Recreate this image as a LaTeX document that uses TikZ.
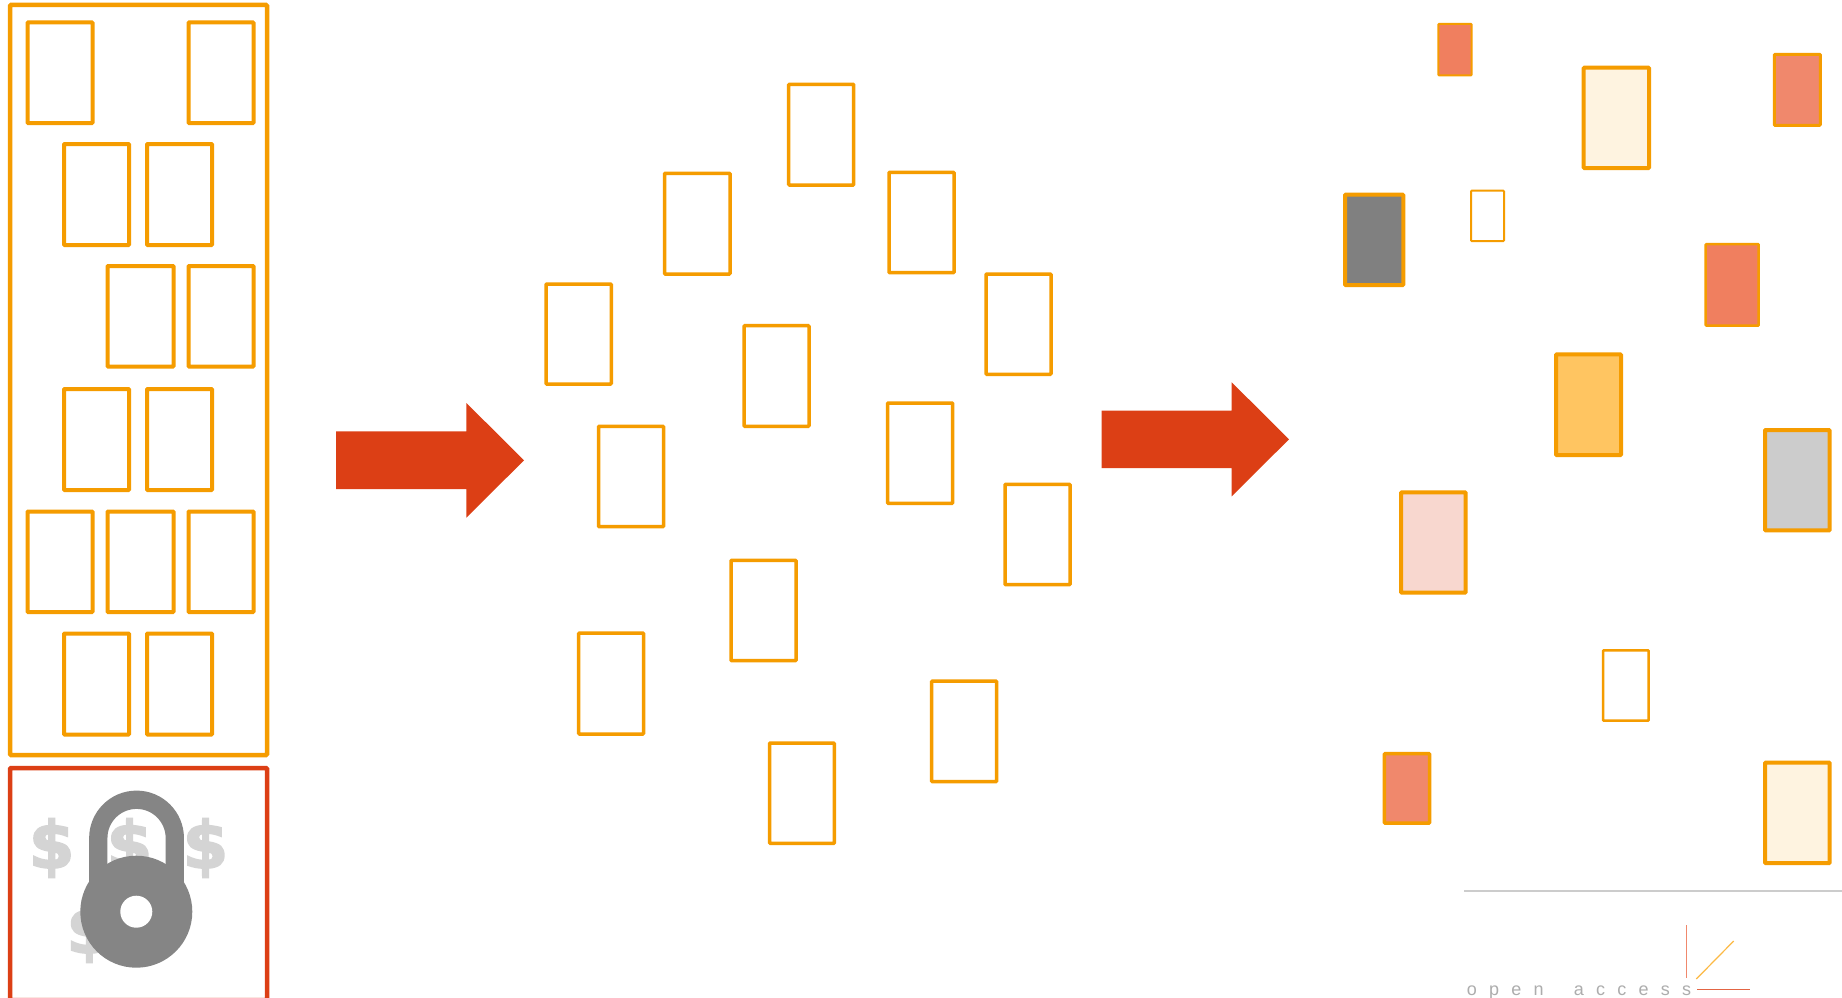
\documentclass[tikz,border=0pt]{standalone}
\usepackage{fontspec}
\setmainfont{Liberation Sans}
\newfontfamily\dollarfont[FakeBold=3]{DejaVu Sans Bold}
\definecolor{oaorange}{HTML}{F59C00}
\definecolor{oared}{HTML}{DC3F15}
\definecolor{lockgray}{HTML}{858585}
\definecolor{dollargray}{HTML}{D4D4D4}
\definecolor{cream}{HTML}{FEF3E0}
\definecolor{coralA}{HTML}{F07F5F}
\definecolor{coralB}{HTML}{F0886C}
\definecolor{amber}{HTML}{FFC561}
\definecolor{pinkish}{HTML}{F8D7CF}
\tikzset{
  x=1pt,y=-1pt,
  paper/.style={draw=oaorange,line width=#1,rounded corners=0.8pt,inner sep=0pt,outer sep=0pt},
  paper/.default=4pt,
  frame/.style={line width=4.5pt,rounded corners=1pt},
  bigarrow/.style={fill=oared,draw=none},
  dollar/.style={text=dollargray,inner sep=0pt,font=\dollarfont\fontsize{65}{70}\selectfont},
  logoline/.style={line width=1.2pt},
}
% name, x1, y1, x2, y2, options
\newcommand{\pbox}[6][]{%
  \path[paper,#1] (#3,#4) rectangle (#5,#6);
  \coordinate (#2) at ({(#3+#5)/2},{(#4+#6)/2});
}
\begin{document}
\begin{tikzpicture}
\useasboundingbox (0,0) rectangle (1842,998);
\fill[white] (0,0) rectangle (1842,998);
% left frames
\draw[frame,oaorange] (10,5) rectangle (267,755);
\draw[frame,oared] (10,768) rectangle (267,1000);
% left boxes
\pbox{a1}{27.5}{22.5}{92.5}{123}
\pbox{a2}{188.5}{22.5}{253.5}{123}
\pbox{a3}{64}{144}{129}{245}
\pbox{a4}{147}{144}{212}{245}
\pbox{a5}{107.5}{266}{173.5}{366.5}
\pbox{a6}{188.5}{266}{253.5}{366.5}
\pbox{a7}{64}{389}{129}{490}
\pbox{a8}{147}{389}{212}{490}
\pbox{a9}{27.5}{511.5}{92.5}{612}
\pbox{a10}{107.5}{511.5}{173.5}{612}
\pbox{a11}{188.5}{511.5}{253.5}{612}
\pbox{a12}{64}{633.5}{129}{734.5}
\pbox{a13}{147}{633.5}{212}{734.5}
% dollars and lock
\node[dollar] (d1) at (51.7,848) {\$};
\node[dollar] (d2) at (129.5,848) {\$};
\node[dollar] (d3) at (205.5,848) {\$};
\node[dollar] (d4) at (89.3,933) {\$};
\draw[lockgray,line width=18.3pt] (98.3,890) -- (98.3,838) arc[start angle=180,end angle=360,radius=38.25] -- (174.8,890);
\fill[lockgray] (136.3,911.7) circle[radius=56];
\fill[white] (136.3,911.7) circle[radius=16];
% arrows
\fill[bigarrow] (336,431.3) -- (466.4,431.3) -- (466.4,403) -- (524,460.3) -- (466.4,517.7) -- (466.4,489) -- (336,489) -- cycle;
\fill[bigarrow] (1101.6,410.6) -- (1231.7,410.6) -- (1231.7,382.3) -- (1289,439.3) -- (1231.7,496.3) -- (1231.7,468) -- (1101.6,468) -- cycle;
% middle boxes
\pbox[paper=3.5pt]{m1}{788.7}{84.3}{853.7}{185}
\pbox[paper=3.5pt]{m2}{664.6}{173.3}{730}{274}
\pbox[paper=3.5pt]{m3}{889}{172.3}{954}{272.7}
\pbox[paper=3.5pt]{m4}{546}{284}{611.3}{384}
\pbox[paper=3.5pt]{m5}{986}{274}{1051}{374.3}
\pbox[paper=3.5pt]{m6}{744}{325.7}{809}{426.3}
\pbox[paper=3.5pt]{m7}{598.5}{426.3}{663.5}{526.7}
\pbox[paper=3.5pt]{m8}{887.6}{403}{952.6}{503.3}
\pbox[paper=3.5pt]{m9}{1005}{484.3}{1070}{584.7}
\pbox[paper=3.5pt]{m10}{731}{560.3}{796}{660.7}
\pbox[paper=3.5pt]{m11}{578.7}{633}{643.5}{734}
\pbox[paper=3.5pt]{m12}{931.7}{681}{996.5}{781.7}
\pbox[paper=3.5pt]{m13}{769.5}{743}{834.3}{843.3}
% right boxes
\pbox[paper=2pt,fill=coralA]{r1}{1438.3}{24}{1471.7}{75.3}
\pbox[paper=4pt,fill=cream]{r2}{1583.7}{67.7}{1649}{168}
\pbox[paper=3pt,fill=coralB]{r3}{1774.3}{54.3}{1820.3}{125.3}
\pbox[paper=4pt,fill=gray]{r4}{1345}{194.7}{1403.3}{285}
\pbox[paper=2pt]{r5}{1471}{190.7}{1504}{241}
\pbox[paper=2.5pt,fill=coralA]{r6}{1705.7}{244}{1758.7}{325.7}
\pbox[paper=4pt,fill=amber]{r7}{1556}{354.3}{1621}{455}
\pbox[paper=4pt,fill=black!20]{r8}{1765}{430}{1829.7}{530.3}
\pbox[paper=4pt,fill=pinkish]{r9}{1401}{492.3}{1465.7}{592.7}
\pbox[paper=2.5pt]{r10}{1603}{650.3}{1648.7}{720.7}
\pbox[paper=3.5pt,fill=coralB]{r11}{1384.3}{753.7}{1429.7}{823}
\pbox[paper=4pt,fill=cream]{r12}{1765}{762.7}{1829.7}{863}
% footer
\draw[black!20,line width=1.5pt] (1464,891) -- (1842,891);
\draw[logoline,coralB] (1686.3,925) -- (1686.3,978.3);
\draw[logoline,amber!70!oaorange] (1696.3,979) -- (1733.7,941);
\draw[logoline,oared!80!white] (1697,989.3) -- (1749.7,989.3);
\node[anchor=base west,inner sep=0pt,text=black!32,font=\fontsize{18}{20}\selectfont\addfontfeature{LetterSpace=68}] (oa) at (1466.7,995) {open\hspace{13pt} access};
\end{tikzpicture}
\end{document}
